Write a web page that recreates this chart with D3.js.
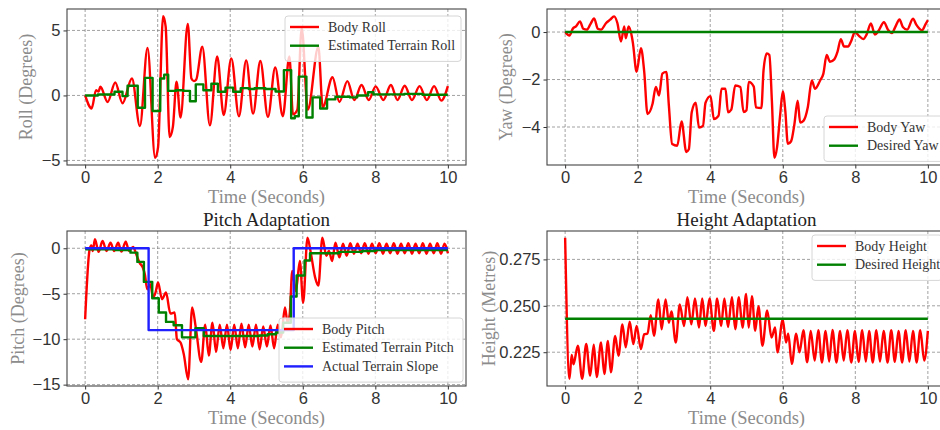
<!DOCTYPE html>
<html>
<head>
<meta charset="utf-8">
<script src="https://cdn.jsdelivr.net/npm/d3@7.9.0/dist/d3.min.js"></script>
<style>
  body { margin: 0; background: #fff; }
  svg { display: block; font-family: "Liberation Serif", "DejaVu Serif", serif; }
</style>
</head>
<body>
<svg id="chart" width="940" height="430"></svg>
<script>
// --- data: [time (s), value] ---
const timeTicks = [0, 2, 4, 6, 8, 10];

const bodyRoll = [[0,0],[0.18,-1.0],[0.3,0.4],[0.37,0.3],[0.42,0.67],[0.62,-0.5],[0.83,1.0],[1.03,-0.6],
  [1.29,1.3],[1.51,-2.35],[1.72,3.65],[1.93,-4.8],[2.01,-4.0],[2.15,6.1],[2.22,5.3],[2.33,-3.2],[2.42,-2.4],
  [2.52,1.05],[2.63,-1.7],[2.83,5.5],[2.93,1.3],[3.0,1.1],[3.06,1.2],[3.23,3.75],[3.44,-2.3],[3.64,3.0],
  [3.82,-1.5],[4.03,2.85],[4.24,-1.6],[4.44,2.7],[4.63,-1.4],[4.83,2.65],[5.04,-1.65],[5.24,2.15],
  [5.45,-1.6],[5.63,3.0],[5.73,-1.45],[5.85,-1.1],[5.97,5.2],[6.14,-1.1],[6.43,3.75],[6.55,-0.9],
  [6.82,1.4],[7.01,-0.5],[7.23,1.1],[7.42,-0.35],[7.62,0.8],[7.82,-0.35],[8.01,0.7],[8.22,-0.35],
  [8.43,0.8],[8.61,-0.35],[8.81,0.75],[9.01,-0.35],[9.22,0.72],[9.42,-0.35],[9.62,0.72],[9.82,-0.4],[10,0.72]];

// step series: value holds from this time until the next entry
const terrainRoll = [[0,0],[0.35,0.07],[0.81,0.28],[1.03,-0.05],[1.17,0.75],[1.45,-0.95],[1.65,1.35],
  [1.86,-1.2],[2.07,1.3],[2.18,1.6],[2.29,0.35],[2.5,0.4],[2.71,0.35],[2.89,-0.45],[3.05,0.85],[3.26,0.4],
  [3.48,0.9],[3.66,0.28],[3.87,0.6],[4.08,0.28],[4.29,0.56],[4.51,0.5],[4.67,0.55],[4.97,0.5],[5.25,0.3],
  [5.48,1.95],[5.68,-1.75],[5.78,-1.6],[5.89,1.45],[6.1,-1.7],[6.27,-0.15],[6.48,-1.0],[6.67,-0.3],
  [6.9,-0.1],[7.3,-0.15],[7.5,0.0],[7.8,0.25],[7.95,0.08],[8.8,0.12],[9.3,0.05],[10,0.05]];

const bodyYaw = [[0,0],[0.12,-0.15],[0.21,0.14],[0.3,0.24],[0.41,0.45],[0.5,0.14],[0.6,0.1],[0.69,0.31],
  [0.8,0.57],[0.9,0.14],[0.99,0.1],[1.13,0.38],[1.24,0.52],[1.35,0.66],[1.44,0.38],[1.54,-0.4],[1.63,0.24],
  [1.67,-0.26],[1.75,0.24],[1.84,-0.2],[1.87,-0.48],[1.97,-1.67],[2.09,-0.68],[2.18,-1.67],[2.27,-3.45],
  [2.41,-3.02],[2.5,-2.31],[2.59,-2.67],[2.68,-1.75],[2.79,-1.68],[2.86,-3.1],[2.95,-4.72],[3.09,-4.79],
  [3.21,-3.77],[3.34,-5.05],[3.41,-4.94],[3.49,-3.38],[3.6,-2.98],[3.69,-4.02],[3.8,-3.95],[3.87,-2.98],
  [4.01,-2.7],[4.1,-3.67],[4.23,-3.52],[4.31,-2.39],[4.42,-2.39],[4.49,-3.38],[4.58,-3.27],[4.69,-2.25],
  [4.83,-2.32],[4.92,-3.37],[5.0,-3.29],[5.06,-2.1],[5.2,-2.3],[5.26,-3.17],[5.41,-3.2],[5.47,-1.6],
  [5.56,-0.9],[5.63,-0.97],[5.7,-2.9],[5.77,-5.3],[5.84,-4.88],[5.93,-3.46],[6.0,-2.5],[6.07,-3.32],
  [6.14,-4.71],[6.23,-4.6],[6.32,-3.89],[6.41,-2.89],[6.48,-3.81],[6.57,-3.74],[6.69,-3.17],[6.8,-2.04],
  [6.89,-2.39],[7.03,-2.04],[7.12,-1.75],[7.21,-0.97],[7.3,-1.25],[7.42,-1.15],[7.51,-0.83],[7.6,-0.3],
  [7.69,-0.61],[7.8,-0.61],[7.88,-0.4],[7.99,0],[8.1,-0.16],[8.22,-0.3],[8.31,-0.11],[8.43,0.36],
  [8.54,-0.11],[8.63,0.03],[8.79,0.41],[8.9,0.1],[9.01,-0.04],[9.1,0.21],[9.22,0.53],[9.31,0.21],
  [9.43,0.1],[9.59,0.56],[9.68,0.31],[9.84,0.07],[9.93,0.31],[10,0.5]];
const desiredYaw = [[0,0],[10,0]];

const bodyPitch = [[0,-7.8],[0.12,-0.2],[0.17,0.3],[0.21,-0.3],[0.27,1.0],[0.37,-0.4],[0.48,0.8],[0.59,-0.3],
  [0.7,0.6],[0.8,-0.3],[0.91,0.6],[1.0,-0.37],[1.12,0.73],[1.21,-0.3],[1.32,0.15],[1.41,-0.66],[1.5,-1.58],
  [1.59,-2.12],[1.65,-2.93],[1.71,-4.5],[1.8,-3.96],[1.87,-5.42],[1.94,-4.87],[2.01,-3.77],[2.12,-5.6],
  [2.23,-4.87],[2.35,-7.18],[2.47,-7.07],[2.53,-10.0],[2.63,-10.37],[2.72,-11.65],[2.84,-14.4],[2.95,-6.5],
  [3.05,-8.7],[3.2,-12.5],[3.31,-8.4],[3.41,-11.8],[3.51,-8.2],[3.61,-11.4],[3.71,-8.4],[3.81,-11.0],
  [3.91,-8.4],[4.01,-11.2],[4.11,-8.4],[4.21,-11.0],[4.31,-8.3],[4.41,-10.9],[4.51,-8.4],[4.61,-10.8],
  [4.71,-8.4],[4.81,-11.1],[4.91,-8.6],[5.01,-10.8],[5.11,-8.5],[5.21,-11.0],[5.31,-8.4],[5.4,-9.8],
  [5.51,-6.5],[5.58,-8.2],[5.64,-7.25],[5.71,-2.5],[5.81,-4.7],[5.92,-1.4],[6.01,-6.0],[6.13,1.17],
  [6.22,-0.48],[6.34,-3.2],[6.43,-4.1],[6.54,1.17],[6.65,-0.84],[6.72,-0.3],[6.81,-1.4],[6.9,0.62],
  [7.01,-1.0],[7.11,0.5],[7.21,-0.84],[7.31,0.55],[7.41,-0.6],[7.51,0.5],[7.61,-0.55],[7.71,0.55],
  [7.81,-0.6],[7.91,0.5],[8.01,-0.55],[8.11,0.55],[8.21,-0.6],[8.31,0.5],[8.41,-0.55],[8.51,0.55],
  [8.61,-0.6],[8.71,0.5],[8.81,-0.55],[8.91,0.55],[9.01,-0.6],[9.11,0.5],[9.21,-0.55],[9.31,0.55],
  [9.41,-0.6],[9.51,0.5],[9.61,-0.55],[9.71,0.55],[9.81,-0.6],[9.91,0.5],[10,-0.55]];
const terrainPitch = [[0,-0.1],[0.84,-0.2],[1.25,-0.48],[1.44,-1.5],[1.62,-3.7],[1.85,-5.5],[2.03,-7.07],
  [2.23,-8.1],[2.44,-8.46],[2.67,-9.8],[3.04,-8.8],[3.27,-9.65],[4.8,-9.6],[5.03,-9.45],[5.26,-9.27],
  [5.46,-8.2],[5.67,-5.3],[5.83,-3.0],[6.05,-1.35],[6.2,-0.55],[7.0,-0.4],[7.64,-0.3],[8.0,-0.2],[10,-0.2]];
const actualSlope = [[0,0],[1.75,-9],[5.75,0],[10,0]];

const bodyHeight = [[0,0.2867],[0.12,0.2107],[0.18,0.2235],[0.23,0.2185],[0.35,0.2285],[0.47,0.2107],
  [0.58,0.2294],[0.69,0.2124],[0.79,0.229],[0.87,0.2116],[0.99,0.2302],[1.08,0.2133],[1.18,0.2311],
  [1.26,0.2142],[1.38,0.2338],[1.47,0.2231],[1.58,0.24],[1.67,0.2276],[1.78,0.2415],[1.88,0.2294],
  [1.97,0.2391],[2.09,0.2267],[2.18,0.2347],[2.27,0.235],[2.36,0.245],[2.45,0.2338],[2.57,0.2534],
  [2.66,0.2374],[2.77,0.2534],[2.86,0.2409],[2.93,0.247],[3.05,0.2302],[3.16,0.2507],[3.28,0.2391],
  [3.37,0.2546],[3.48,0.24],[3.58,0.2539],[3.69,0.2383],[3.78,0.2539],[3.87,0.2391],[3.98,0.2539],
  [4.1,0.2365],[4.19,0.2539],[4.3,0.2391],[4.39,0.2539],[4.49,0.2386],[4.6,0.2546],[4.69,0.2374],
  [4.79,0.2546],[4.89,0.2383],[4.99,0.2564],[5.06,0.2383],[5.15,0.2552],[5.24,0.2365],[5.33,0.2498],
  [5.44,0.2285],[5.57,0.2475],[5.69,0.2329],[5.79,0.2383],[5.85,0.2249],[6.0,0.2427],[6.09,0.2302],
  [6.15,0.235],[6.25,0.2187],[6.37,0.235],[6.46,0.2249],[6.57,0.2368],[6.67,0.2196],[6.77,0.2365],
  [6.88,0.2205],[6.98,0.2368],[7.08,0.2195],[7.18,0.2365],[7.28,0.22],[7.37,0.237],[7.48,0.2195],
  [7.58,0.2365],[7.68,0.2205],[7.78,0.2368],[7.89,0.2195],[7.99,0.2365],[8.09,0.2198],[8.19,0.2368],
  [8.29,0.22],[8.38,0.2365],[8.48,0.2195],[8.58,0.2368],[8.68,0.22],[8.78,0.2365],[8.89,0.2195],
  [8.99,0.2368],[9.09,0.2198],[9.19,0.2365],[9.29,0.2195],[9.39,0.2368],[9.49,0.22],[9.59,0.2365],
  [9.69,0.2195],[9.79,0.2368],[9.9,0.2205],[10,0.2365]];
const desiredHeight = [[0,0.243],[10,0.243]];

const svg = d3.select('#chart');

// one subplot
function drawPanel(p) {
  const g = svg.append('g');
  const x = d3.scaleLinear().domain([-0.5, 10.5]).range([p.left, p.right]);
  const y = d3.scaleLinear().domain(p.yDomain).range([p.bottom, p.top]);

  // grid
  g.selectAll('.gx').data(timeTicks).join('line')
    .attr('x1', d => x(d)).attr('x2', d => x(d)).attr('y1', p.top).attr('y2', p.bottom)
    .attr('stroke', '#7a7a7a').attr('stroke-width', 0.7).attr('stroke-dasharray', '3,2');
  g.selectAll('.gy').data(p.yTicks).join('line')
    .attr('x1', p.left).attr('x2', p.right).attr('y1', d => y(d)).attr('y2', d => y(d))
    .attr('stroke', '#7a7a7a').attr('stroke-width', 0.7).attr('stroke-dasharray', '3,2');

  // axes
  const xAxis = g.append('g').attr('transform', `translate(0,${p.bottom})`)
    .call(d3.axisBottom(x).tickValues(timeTicks).tickSize(3.5).tickPadding(3).tickFormat(d3.format('d')));
  const yAxis = g.append('g').attr('transform', `translate(${p.left},0)`)
    .call(d3.axisLeft(y).tickValues(p.yTicks).tickSize(3.5).tickPadding(3).tickFormat(p.yFormat));
  [xAxis, yAxis].forEach(a => {
    a.select('.domain').remove();
    a.selectAll('line').attr('stroke', '#333');
    a.selectAll('text').attr('font-family', null).attr('font-size', 16.5).attr('fill', '#333');
  });

  // lines
  const clipId = 'clip' + p.id;
  svg.append('clipPath').attr('id', clipId).append('rect')
    .attr('x', p.left).attr('y', p.top).attr('width', p.right - p.left).attr('height', p.bottom - p.top);
  const plot = g.append('g').attr('clip-path', `url(#${clipId})`);
  p.series.forEach(s => {
    const line = d3.line().x(d => x(d[0])).y(d => y(d[1]))
      .curve(s.step ? d3.curveStepAfter : d3.curveMonotoneX);
    plot.append('path').datum(s.data).attr('d', line)
      .attr('fill', 'none').attr('stroke', s.color).attr('stroke-width', 2.4)
      .attr('stroke-linejoin', 'round');
  });

  // frame
  g.append('rect').attr('x', p.left).attr('y', p.top)
    .attr('width', p.right - p.left).attr('height', p.bottom - p.top)
    .attr('fill', 'none').attr('stroke', '#444').attr('stroke-width', 1.1);

  // labels
  g.append('text').attr('x', (p.left + p.right) / 2).attr('y', p.bottom + 38)
    .attr('text-anchor', 'middle').attr('font-size', 18.5).attr('fill', '#8c8c8c').text('Time (Seconds)');
  g.append('text').attr('transform', `translate(${p.ylabelX},${(p.top + p.bottom) / 2}) rotate(-90)`)
    .attr('text-anchor', 'middle').attr('font-size', 18).attr('fill', '#8c8c8c').text(p.ylabel);
  if (p.title) {
    g.append('text').attr('x', (p.left + p.right) / 2).attr('y', p.top - 5)
      .attr('text-anchor', 'middle').attr('font-size', 19).attr('fill', '#222').text(p.title);
  }

  // legend
  const L = p.legend;
  const lg = g.append('g');
  lg.append('rect').attr('x', L.x).attr('y', L.y).attr('width', L.w).attr('height', 8 + p.series.length * 18.7)
    .attr('rx', 3).attr('fill', 'white').attr('fill-opacity', 0.8).attr('stroke', '#d6d6d6');
  p.series.forEach((s, i) => {
    const cy = L.y + 11 + i * 18.7;
    lg.append('line').attr('x1', L.x + 5).attr('x2', L.x + 34).attr('y1', cy).attr('y2', cy)
      .attr('stroke', s.color).attr('stroke-width', 2.4);
    lg.append('text').attr('x', L.x + 43).attr('y', cy + 4.5).attr('font-size', 14).attr('fill', '#333').text(s.name);
  });
}

const fmtInt = d3.format('d');
const fmtH = d3.format('.3f');

drawPanel({ id: 1, left: 67, right: 466, top: 9, bottom: 165, yDomain: [-5.35, 6.65], yTicks: [-5, 0, 5],
  yFormat: fmtInt, ylabel: 'Roll (Degrees)', ylabelX: 32,
  legend: { x: 285, y: 16, w: 176 },
  series: [
    { name: 'Body Roll', color: '#ff0000', data: bodyRoll },
    { name: 'Estimated Terrain Roll', color: '#008000', data: terrainRoll, step: true }
  ] });

drawPanel({ id: 2, left: 547, right: 946, top: 9, bottom: 165, yDomain: [-5.6, 0.97], yTicks: [-4, -2, 0],
  yFormat: fmtInt, ylabel: 'Yaw (Degrees)', ylabelX: 512,
  legend: { x: 824, y: 116, w: 125 },
  series: [
    { name: 'Body Yaw', color: '#ff0000', data: bodyYaw },
    { name: 'Desired Yaw', color: '#008000', data: desiredYaw }
  ] });

drawPanel({ id: 3, left: 67, right: 466, top: 231, bottom: 386, yDomain: [-15.15, 1.9], yTicks: [-15, -10, -5, 0],
  yFormat: fmtInt, ylabel: 'Pitch (Degrees)', ylabelX: 24, title: 'Pitch Adaptation',
  legend: { x: 279, y: 318, w: 184 },
  series: [
    { name: 'Body Pitch', color: '#ff0000', data: bodyPitch },
    { name: 'Estimated Terrain Pitch', color: '#008000', data: terrainPitch, step: true },
    { name: 'Actual Terrain Slope', color: '#1f1fff', data: actualSlope, step: true }
  ] });

drawPanel({ id: 4, left: 547, right: 946, top: 231, bottom: 386, yDomain: [0.2068, 0.2903], yTicks: [0.225, 0.25, 0.275],
  yFormat: fmtH, ylabel: 'Height (Metres)', ylabelX: 495, title: 'Height Adaptation',
  legend: { x: 812, y: 235, w: 130 },
  series: [
    { name: 'Body Height', color: '#ff0000', data: bodyHeight },
    { name: 'Desired Height', color: '#008000', data: desiredHeight }
  ] });
</script>
</body>
</html>
